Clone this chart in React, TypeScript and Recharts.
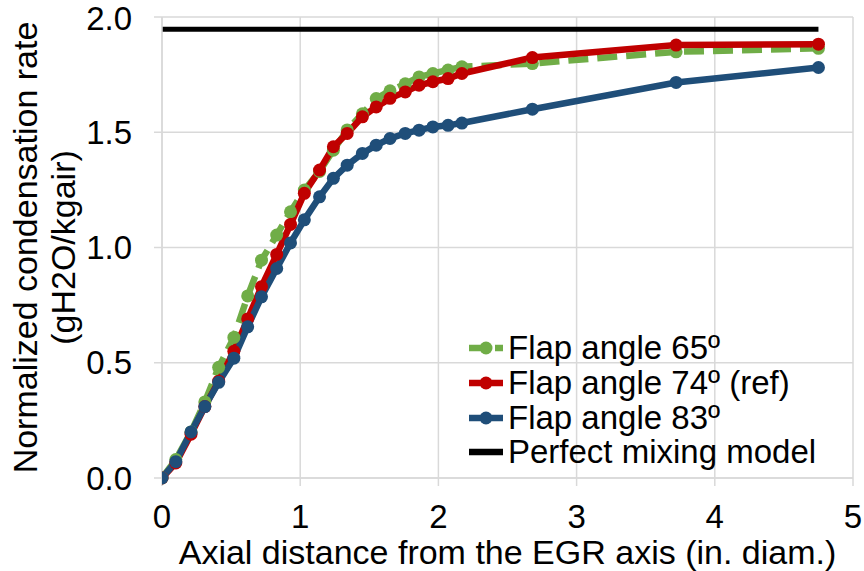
import React from 'react';
import { LineChart, Line, XAxis, YAxis, CartesianGrid, Label } from 'recharts';

// Axial positions (in diameters) where the condensation rate was sampled
const xPos = [0, 0.1, 0.21, 0.31, 0.41, 0.52, 0.62, 0.72, 0.83, 0.93, 1.03, 1.14, 1.24, 1.34, 1.45, 1.55, 1.65, 1.76, 1.86, 1.96, 2.07, 2.17, 2.68, 3.72, 4.75];

// Normalized condensation rate (gH2O/kgair) for each flap angle
const flap65 = [0, 0.08, 0.2, 0.33, 0.48, 0.61, 0.79, 0.945, 1.054, 1.155, 1.249, 1.33, 1.422, 1.51, 1.58, 1.646, 1.68, 1.71, 1.74, 1.755, 1.77, 1.784, 1.798, 1.849, 1.864];
const flap74 = [0, 0.065, 0.19, 0.31, 0.42, 0.55, 0.69, 0.83, 0.97, 1.1, 1.235, 1.336, 1.437, 1.495, 1.567, 1.61, 1.647, 1.675, 1.704, 1.719, 1.733, 1.755, 1.824, 1.878, 1.882];
const flap83 = [0, 0.071, 0.2, 0.31, 0.415, 0.52, 0.656, 0.786, 0.909, 1.02, 1.12, 1.22, 1.3, 1.357, 1.408, 1.444, 1.473, 1.495, 1.509, 1.523, 1.53, 1.54, 1.6, 1.716, 1.781];

// Perfect mixing model: constant level across the measured range
const mixingX = [0, 4.75];
const mixingY = [1.947, 1.947];

const xTicks = [0, 1, 2, 3, 4, 5];
const yTicks = [0, 0.5, 1, 1.5, 2];

const GREEN = '#70AD47';
const RED = '#C00000';
const BLUE = '#1F4E79';
const BLACK = '#000000';
const FONT = '"Liberation Sans", Arial, sans-serif';

const rows = xPos.map((x, i) => ({ x, f65: flap65[i], f74: flap74[i], f83: flap83[i] }));
const mixingRows = mixingX.map((x, i) => ({ x, mix: mixingY[i] }));

const legendItems = [
  { label: 'Flap angle 65º', color: GREEN, dashed: true, marker: true },
  { label: 'Flap angle 74º (ref)', color: RED, dashed: false, marker: true },
  { label: 'Flap angle 83º', color: BLUE, dashed: false, marker: true },
  { label: 'Perfect mixing model', color: BLACK, dashed: false, marker: false },
];

const LegendBox = () => (
  <div
    style={{
      position: 'absolute',
      left: 466,
      top: 331,
      fontFamily: FONT,
      fontSize: 33,
      color: '#000',
      pointerEvents: 'none',
    }}
  >
    {legendItems.map((it) => (
      <div key={it.label} style={{ display: 'flex', alignItems: 'center', height: 34.7 }}>
        <svg width={40} height={20} style={{ marginRight: 2 }}>
          <line
            x1={3}
            y1={10}
            x2={37}
            y2={10}
            stroke={it.color}
            strokeWidth={6.5}
            strokeDasharray={it.dashed ? '16 10' : undefined}
          />
          {it.marker && <circle cx={20} cy={10} r={6.5} fill={it.color} />}
        </svg>
        <span style={{ lineHeight: '34px', whiteSpace: 'nowrap' }}>{it.label}</span>
      </div>
    ))}
  </div>
);

const YTitle = (props: any) => {
  const vb = props.viewBox || { y: 17, height: 461 };
  const cy = vb.y + vb.height / 2;
  return (
    <g fontFamily={FONT} fontSize={34} fill="#000">
      <text x={25} y={cy} transform={`rotate(-90, 25, ${cy})`} textAnchor="middle" dominantBaseline="central">
        Normalized condensation rate
      </text>
      <text x={63} y={cy} transform={`rotate(-90, 63, ${cy})`} textAnchor="middle" dominantBaseline="central">
        (gH2O/kgair)
      </text>
    </g>
  );
};

export default function App() {
  return (
    <div style={{ position: 'absolute', left: 0, top: 0, width: 864, height: 571, background: '#fff' }}>
      <LineChart width={864} height={571} data={rows} margin={{ top: 17, right: 11, bottom: 0, left: 0 }}>
        <CartesianGrid stroke="#d9d9d9" strokeWidth={1.5} />
        <XAxis
          dataKey="x"
          type="number"
          domain={[0, 5]}
          ticks={xTicks}
          height={93}
          tickSize={8}
          tickMargin={19}
          stroke="#d9d9d9"
          strokeWidth={1.5}
          tick={{ fill: '#000', fontSize: 33, fontFamily: FONT }}
          allowDataOverflow
        >
          <Label
            value="Axial distance from the EGR axis (in. diam.)"
            position="insideBottom"
            offset={7}
            style={{ fill: '#000', fontSize: 34, fontFamily: FONT }}
          />
        </XAxis>
        <YAxis
          type="number"
          domain={[0, 2]}
          ticks={yTicks}
          width={162}
          tickSize={8}
          tickMargin={22}
          stroke="#d9d9d9"
          strokeWidth={1.5}
          tickFormatter={(v: number) => v.toFixed(1)}
          tick={{ fill: '#000', fontSize: 33, fontFamily: FONT }}
          label={<YTitle />}
        />
        <Line
          dataKey="f65"
          stroke={GREEN}
          strokeWidth={6.5}
          strokeDasharray="20 9"
          dot={{ r: 6.5, fill: GREEN, stroke: 'none', strokeWidth: 0, strokeDasharray: '' }}
          isAnimationActive={false}
        />
        <Line
          dataKey="f74"
          stroke={RED}
          strokeWidth={6.5}
          dot={{ r: 6.5, fill: RED, stroke: 'none', strokeWidth: 0 }}
          isAnimationActive={false}
        />
        <Line
          dataKey="f83"
          stroke={BLUE}
          strokeWidth={6.5}
          dot={{ r: 6.5, fill: BLUE, stroke: 'none', strokeWidth: 0 }}
          isAnimationActive={false}
        />
        <Line
          data={mixingRows}
          dataKey="mix"
          stroke={BLACK}
          strokeWidth={5}
          dot={false}
          isAnimationActive={false}
        />
      </LineChart>
      <LegendBox />
    </div>
  );
}
